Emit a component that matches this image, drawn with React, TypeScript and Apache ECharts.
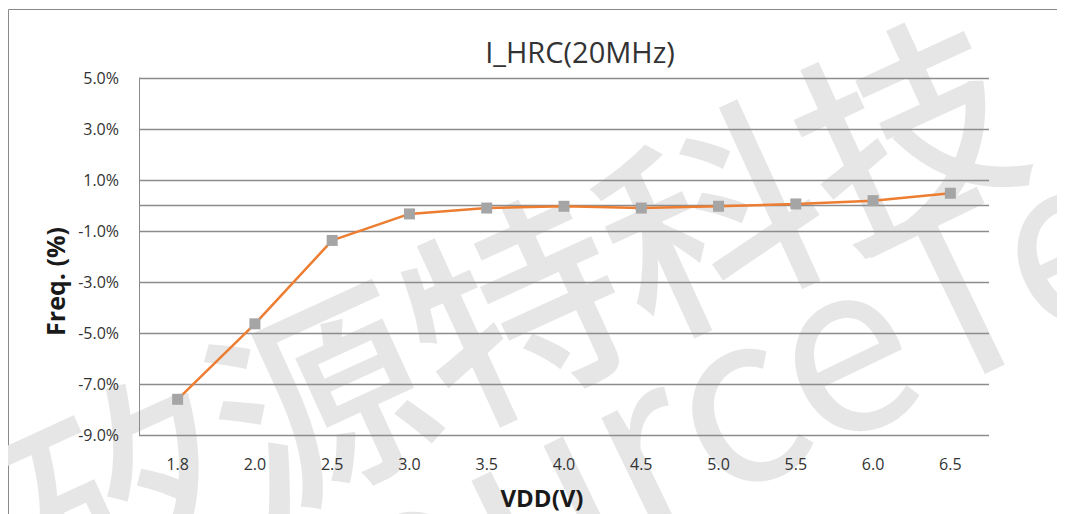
import React, { useEffect, useRef } from "react";
import * as echarts from "echarts";

const TITLE = "I_HRC(20MHz)";
const X_NAME = "VDD(V)";
const Y_NAME = "Freq. (%)";
const categories = ["1.8", "2.0", "2.5", "3.0", "3.5", "4.0", "4.5", "5.0", "5.5", "6.0", "6.5"];
const freqValues = [-7.6, -4.64, -1.37, -0.33, -0.1, -0.03, -0.1, -0.03, 0.06, 0.19, 0.48];
const yTicks = [-9, -8, -7, -6, -5, -4, -3, -2, -1, 0, 1, 2, 3, 4, 5];
const labelledTicks = [-9, -7, -5, -3, -1, 1, 3, 5];
const WATERMARK_CN = "矽源特科技";
const WATERMARK_EN = "ChipSourceTek";

const GRID_COLOR = "#8c8c8c";
const TEXT_COLOR = "#333333";
const FONT = "'Open Sans', 'Noto Sans', sans-serif";

export default function App() {
  const ref = useRef<HTMLDivElement>(null);
  useEffect(() => {
    if (!ref.current) return;
    const chart = echarts.init(ref.current, undefined, { renderer: "svg" });
    const splitColors = yTicks.map((v) =>
      labelledTicks.includes(v) || v === 0 ? GRID_COLOR : "rgba(0,0,0,0)"
    );
    chart.setOption({
      animation: false,
      backgroundColor: "#ffffff",
      title: {
        text: TITLE,
        left: 567,
        top: 24,
        textAlign: "center",
        textStyle: { fontFamily: FONT, fontSize: 29, fontWeight: "normal", color: TEXT_COLOR },
      },
      graphic: [
        {
          type: "rect",
          z: -2,
          silent: true,
          shape: { x: 0.5, y: 1.5, width: 1200, height: 700 },
          style: { fill: "none", stroke: "#8a8a8a", lineWidth: 1 },
        },
        {
          type: "text",
          z: -1,
          silent: true,
          x: 503,
          y: 292,
          rotation: 0.43,
          style: {
            text: WATERMARK_CN,
            font: "500 215px 'Noto Sans CJK SC'",
            fill: "#e6e6e6",
            align: "center",
            verticalAlign: "middle",
          },
        },
        {
          type: "text",
          z: -1,
          silent: true,
          x: -250,
          y: 846,
          rotation: 0.45,
          style: {
            text: WATERMARK_EN,
            font: "235px 'Noto Sans CJK SC'",
            fill: "#e6e6e6",
            align: "left",
            verticalAlign: "middle",
          },
        },
      ],
      grid: { left: 131, right: 76, top: 70, bottom: 77, containLabel: false },
      xAxis: {
        type: "category",
        data: categories,
        boundaryGap: true,
        name: X_NAME,
        nameLocation: "middle",
        nameGap: 50,
        nameTextStyle: {
          fontFamily: FONT,
          fontSize: 24,
          fontWeight: "bold",
          color: "#1a1a1a",
          padding: [0, 44, 0, 0],
        },
        axisLine: { show: false },
        axisTick: { show: false },
        axisLabel: { margin: 21, fontFamily: FONT, fontSize: 16, color: TEXT_COLOR },
      },
      yAxis: {
        type: "value",
        min: -9,
        max: 5,
        interval: 1,
        name: Y_NAME,
        nameLocation: "middle",
        nameGap: 70,
        nameRotate: 90,
        nameTextStyle: {
          fontFamily: FONT,
          fontSize: 25,
          fontWeight: "bold",
          color: "#1a1a1a",
          padding: [0, 50, 0, 0],
        },
        axisLine: { show: true, lineStyle: { color: GRID_COLOR, width: 1 } },
        axisTick: { show: false },
        axisLabel: {
          margin: 20,
          fontFamily: FONT,
          fontSize: 16,
          color: TEXT_COLOR,
          formatter: (v: number) => (labelledTicks.includes(v) ? v.toFixed(1) + "%" : ""),
        },
        splitLine: { show: true, lineStyle: { color: splitColors, width: 1.3 } },
      },
      series: [
        {
          type: "line",
          data: freqValues,
          symbol: "rect",
          symbolSize: 11,
          itemStyle: { color: "#a5a5a5" },
          lineStyle: { color: "#ed7d31", width: 2.5 },
          z: 3,
        },
      ],
    });
    return () => chart.dispose();
  }, []);
  return <div ref={ref} style={{ width: 1057, height: 506 }} />;
}
